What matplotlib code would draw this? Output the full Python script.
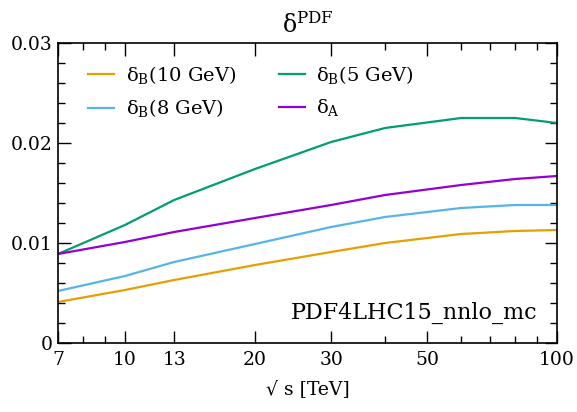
import matplotlib
matplotlib.use("Agg")
import matplotlib.pyplot as plt
from matplotlib.ticker import FixedLocator, FixedFormatter, NullFormatter, MultipleLocator

sqrt_s = [7, 10, 13, 20, 30, 40, 60, 80, 100]
delta_B10 = [0.0041, 0.0053, 0.0063, 0.0078, 0.0091, 0.0100, 0.0109, 0.0112, 0.0113]
delta_B8 = [0.0052, 0.0067, 0.0081, 0.0099, 0.0116, 0.0126, 0.0135, 0.0138, 0.0138]
delta_B5 = [0.0089, 0.0118, 0.0143, 0.0174, 0.0201, 0.0215, 0.0225, 0.0225, 0.0220]
delta_A = [0.0089, 0.0101, 0.0111, 0.0125, 0.0138, 0.0148, 0.0158, 0.0164, 0.0167]

x_major = [7, 10, 13, 20, 30, 50, 100]
x_major_labels = ["7", "10", "13", "20", "30", "50", "100"]
x_minor = [8, 9, 40, 60, 70, 80, 90]
y_major = [0, 0.01, 0.02, 0.03]
y_major_labels = ["0", "0.01", "0.02", "0.03"]

plt.rcParams['font.family'] = ['DejaVu Serif']
plt.rcParams['mathtext.fontset'] = 'custom'
plt.rcParams['mathtext.rm'] = 'DejaVu Serif'
plt.rcParams['mathtext.it'] = 'DejaVu Serif:italic'

fig = plt.figure(figsize=(5.77, 4.12), dpi=100)
ax = fig.add_axes([58/577, 69/412, 499/577, 300/412])

lw = 1.6
ax.plot(sqrt_s, delta_B10, color='#E69F00', lw=lw, label='δ$_{\\mathrm{B}}$(10 GeV)')
ax.plot(sqrt_s, delta_B8, color='#56B4E9', lw=lw, label='δ$_{\\mathrm{B}}$(8 GeV)')
ax.plot(sqrt_s, delta_B5, color='#009E73', lw=lw, label='δ$_{\\mathrm{B}}$(5 GeV)')
ax.plot(sqrt_s, delta_A, color='#9400D3', lw=lw, label='δ$_{\\mathrm{A}}$')

ax.set_xscale('log')
ax.set_xlim(7, 100)
ax.set_ylim(0, 0.03)
ax.xaxis.set_major_locator(FixedLocator(x_major))
ax.xaxis.set_major_formatter(FixedFormatter(x_major_labels))
ax.xaxis.set_minor_locator(FixedLocator(x_minor))
ax.xaxis.set_minor_formatter(NullFormatter())
ax.yaxis.set_major_locator(FixedLocator(y_major))
ax.yaxis.set_major_formatter(FixedFormatter(y_major_labels))
ax.yaxis.set_minor_locator(MultipleLocator(0.002))

ax.tick_params(which='both', direction='in', top=True, right=True, width=1.0, labelsize=13.5)
ax.tick_params(which='major', length=9)
ax.tick_params(which='minor', length=5)
ax.tick_params(axis='x', which='major', pad=6)
ax.tick_params(axis='y', which='major', pad=4)
for s in ax.spines.values():
    s.set_linewidth(1.2)

ax.set_title('δ$^{\\mathrm{PDF}}$', fontsize=17, pad=7)
ax.set_xlabel('√ s [TeV]', fontsize=13.5, labelpad=8)

leg = ax.legend(ncol=2, loc='upper left', frameon=False, fontsize=14,
                handlelength=1.35, handletextpad=0.57, columnspacing=2.2,
                labelspacing=0.6, borderaxespad=0.0, bbox_to_anchor=(0.045, 0.957))

ax.text(0.96, 0.1, 'PDF4LHC15_nnlo_mc', transform=ax.transAxes, ha='right', va='center', fontsize=16)

fig.savefig('out.png', dpi=100)
